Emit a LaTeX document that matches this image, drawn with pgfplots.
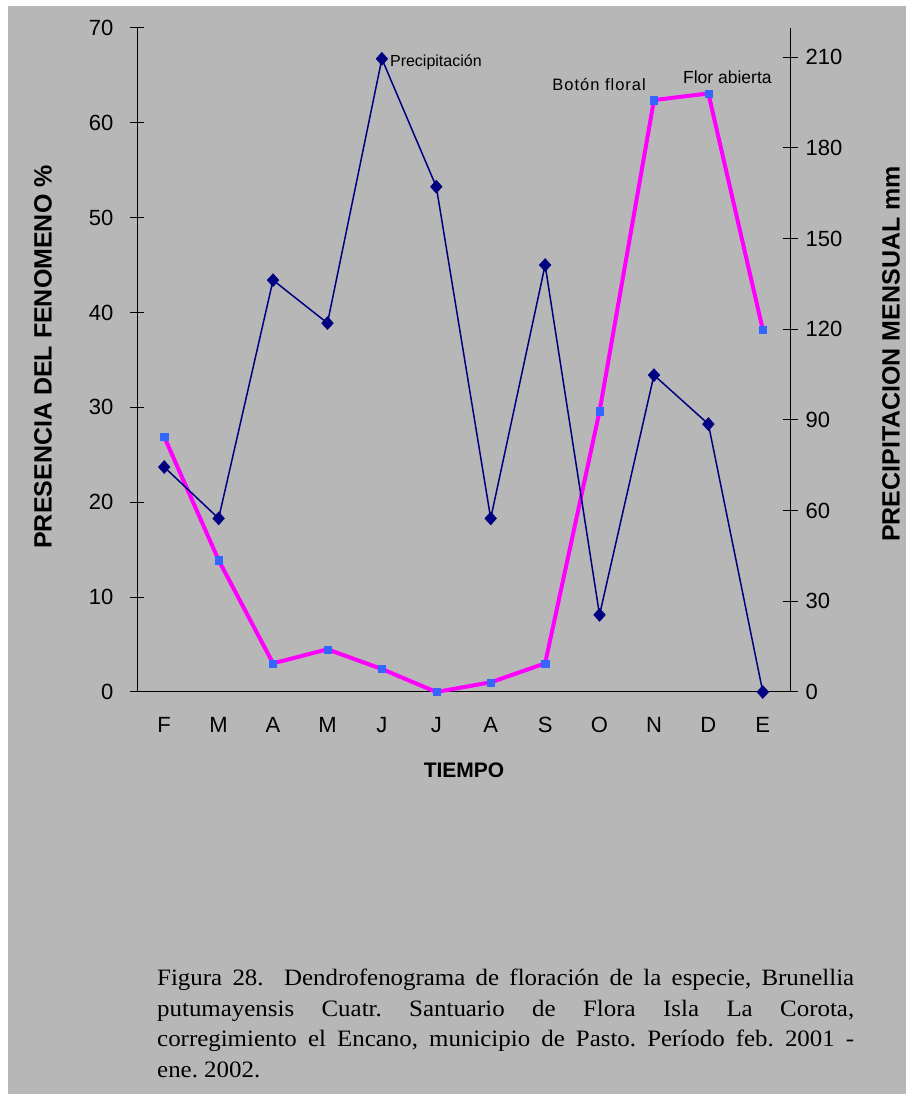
\documentclass[border=0pt]{standalone}
\usepackage{fontspec}
\setmainfont{Liberation Sans}
\newfontfamily\capfont[FakeStretch=1.06]{Liberation Serif}
\newfontfamily\lblfont[LetterSpace=6]{Liberation Sans}
\usepackage{pgfplots}
\pgfplotsset{compat=1.18}

\definecolor{bggray}{RGB}{183,183,183}
\definecolor{precip}{RGB}{0,0,128}
\definecolor{flor}{RGB}{255,0,255}
\definecolor{florpt}{RGB}{51,102,255}

\begin{document}
\begin{tikzpicture}[x=1pt,y=1pt]
\useasboundingbox (0,0) rectangle (906,1094);
\fill[white] (0,0) rectangle (906,1094);
\fill[bggray] (8,0) rectangle (906,1088);

\pgfplotsset{
  common/.style={
    scale only axis, width=653pt, height=664pt,
    at={(137pt,402pt)}, anchor=south west,
    xmin=0, xmax=12, clip=false,
    axis line style={black, line width=1pt},
    tick style={black, line width=1pt},
    major tick length=15pt, minor tick length=15pt,
    tick align=center,
    /pgf/number format/assume math mode=true,
    tick label style={font=\fontsize{22}{22}\selectfont},
  }
}

% left axis: presence of the phenomenon (%)
\begin{axis}[common,
  axis x line*=bottom, axis y line*=left,
  ymin=0, ymax=70, ytick={0,10,...,70},
  xtick={0.5,1.5,...,11.5},
  xticklabels={F,M,A,M,J,J,A,S,O,N,D,E},
  xtick style={draw=none},
  minor xtick={0,1,...,12},
  xticklabel style={anchor=base, yshift=-33pt},
  yticklabel style={anchor=east, inner sep=0pt, xshift=-16pt},
]
\addplot[draw=flor, line width=4pt, mark=square*, mark size=3.6pt,
  mark options={solid, draw=florpt, fill=florpt, line width=0.3pt}]
  coordinates {(0.5,26.9) (1.5,13.9) (2.5,3.02) (3.5,4.5) (4.5,2.42) (5.5,0)
               (6.5,1.02) (7.5,3.02) (8.5,29.6) (9.5,62.4) (10.5,63.1) (11.5,38.2)};
\node[anchor=base east, xshift=-8pt, yshift=10pt, inner sep=0pt, font=\fontsize{16.5}{16.5}\selectfont\lblfont]
  at (axis cs:9.5,62.4) {Botón floral};
\node[anchor=base, xshift=19pt, yshift=10pt, inner sep=0pt, font=\fontsize{17.5}{17.5}\selectfont]
  at (axis cs:10.5,63.1) {Flor abierta};
\end{axis}

% right axis: monthly rainfall (mm)
\begin{axis}[common,
  axis x line=none, axis y line*=right,
  ymin=0, ymax=219.6, ytick={0,30,...,210},
  yticklabel style={anchor=west, inner sep=0pt, xshift=8pt},
]
\addplot[precip, line width=1.5pt, mark=diamond*, mark size=6.5pt,
  mark options={fill=precip, draw=precip, line width=0.5pt, xscale=1.2}]
  coordinates {(0.5,74.4) (1.5,57.4) (2.5,136.2) (3.5,122.0) (4.5,209.4) (5.5,167.1)
               (6.5,57.4) (7.5,141.2) (8.5,25.5) (9.5,104.8) (10.5,88.6) (11.5,0)};
\node[anchor=west, xshift=8pt, yshift=-3pt, inner sep=0pt, font=\fontsize{16}{16}\selectfont]
  at (axis cs:4.5,209.4) {Precipitación};
\end{axis}

% axis titles
\node[rotate=90, font=\fontsize{25}{25}\selectfont\bfseries] at (43,737) {PRESENCIA DEL FENOMENO \%};
\node[rotate=90, font=\fontsize{25}{25}\selectfont\bfseries] at (891,740) {PRECIPITACION MENSUAL mm};
\node[font=\fontsize{21}{21}\selectfont\bfseries] at (464,324) {TIEMPO};

% caption
\node[anchor=base west, inner sep=0pt] at (157,108) {\parbox[t]{697pt}{\capfont\fontsize{23.5}{30.5}\selectfont\frenchspacing
Figura 28.\ \ Dendrofenograma de floración de la especie, Brunellia\linebreak
putumayensis Cuatr. Santuario de Flora Isla La Corota,\linebreak
corregimiento el Encano, municipio de Pasto. Período feb. 2001 -\linebreak
ene. 2002.}};
\end{tikzpicture}
\end{document}
